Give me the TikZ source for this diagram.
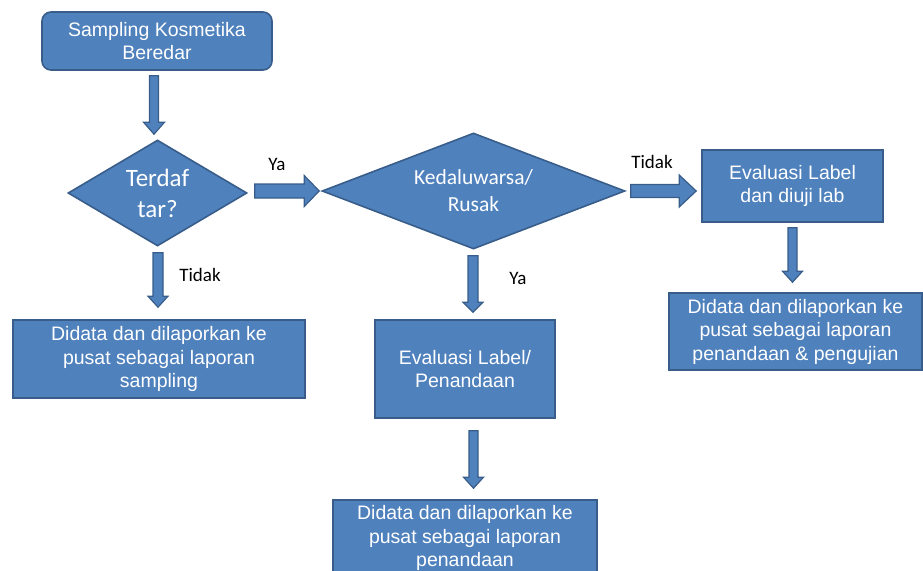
\documentclass[tikz,border=0pt]{standalone}
\usepackage{fontspec}
\setmainfont{Liberation Sans}
\newfontfamily\calfont{Carlito}
\usetikzlibrary{shapes.geometric,calc}
\definecolor{fillblue}{HTML}{4F81BD}
\definecolor{edgeblue}{HTML}{385D8A}
\tikzset{
  boxst/.style={draw=edgeblue, fill=fillblue, line width=1.6pt, text=white, align=center, inner sep=0pt,
    font=\fontsize{19.5}{23.5}\selectfont},
  rboxst/.style={boxst, rounded corners=9pt},
  decst/.style={boxst, diamond, font=\calfont\fontsize{21.5}{27}\selectfont},
  barrowst/.style={draw=edgeblue, fill=fillblue, line width=1.2pt, line join=miter},
  lbl/.style={font=\calfont\fontsize{19}{22}\selectfont, text=black, inner sep=0pt},
}
% #1 tail, #2 tip, #3 shaft half width, #4 head half width, #5 head length
\newcommand\blockarrow[5]{%
  \coordinate (ba) at #1;
  \coordinate (bb) at #2;
  \coordinate (bh) at ($(bb)!#5!(ba)$);
  \draw[barrowst] ($(ba)!#3!90:(bb)$) -- ($(bh)!#3!-90:(ba)$) -- ($(bh)!#4!-90:(ba)$) -- (bb)
    -- ($(bh)!#4!90:(ba)$) -- ($(bh)!#3!90:(ba)$) -- ($(ba)!#3!-90:(bb)$) -- cycle;
}
\begin{document}
\begin{tikzpicture}[x=1pt,y=-1pt]
\useasboundingbox (0,0) rectangle (923,570);

\node[rboxst, minimum width=230pt, minimum height=58pt] (s) at (157,41) {Sampling Kosmetika\\Beredar};
\node[decst, minimum width=179pt, minimum height=106pt, shape aspect=1.7,
      font=\calfont\fontsize{25}{31}\selectfont] (d1) at (157.5,193) {Terdaf\\tar?};
\node[decst, minimum width=303pt, minimum height=116pt, shape aspect=2.6] (d2) at (473.5,191) {Kedaluwarsa/\\Rusak};
\node[boxst, minimum width=292pt, minimum height=78pt] (b1) at (159,359) {Didata dan dilaporkan ke\\pusat sebagai laporan\\sampling};
\node[boxst, minimum width=180pt, minimum height=98pt] (b2) at (465,369) {Evaluasi Label/\\Penandaan};
\node[boxst, minimum width=264pt, minimum height=76pt] (b3) at (465,538) {Didata dan dilaporkan ke\\pusat sebagai laporan\\penandaan};
\node[boxst, minimum width=181pt, minimum height=72pt] (b4) at (792.5,186) {Evaluasi Label\\dan diuji lab};
\node[boxst, minimum width=253pt, minimum height=77pt] (b5) at (795.5,331.5) {Didata dan dilaporkan ke\\pusat sebagai laporan\\penandaan \& pengujian};

\blockarrow{($(s.south)+(-3,5)$)}{($(d1.north)+(-3.5,-5)$)}{4.5pt}{10.5pt}{12pt}
\blockarrow{($(d1.south)+(0.5,6)$)}{($(b1.north)+(-1,-12)$)}{5pt}{10pt}{11pt}
\blockarrow{($(d1.east)+(7,-2)$)}{($(d2.west)+(-2,0)$)}{7pt}{15.5pt}{15pt}
\blockarrow{($(d2.south)+(-0.5,6)$)}{($(b2.north)+(8,-7)$)}{5pt}{10pt}{10pt}
\blockarrow{($(b2.south)+(8.5,12)$)}{($(b3.north)+(8.5,-11)$)}{4.5pt}{10pt}{11pt}
\blockarrow{($(d2.east)+(5,0)$)}{($(b4.west)+(-5,5)$)}{6.5pt}{16pt}{17pt}
\blockarrow{($(b4.south)+(0,5)$)}{($(b5.north)+(-3,-10)$)}{4.5pt}{10pt}{11pt}

\node[lbl] (ya1) at (277,164) {Ya};
\node[lbl] (tdk1) at (200,275) {Tidak};
\node[lbl] (ya2) at (518,278) {Ya};
\node[lbl] (tdk2) at (652,162) {Tidak};
\end{tikzpicture}
\end{document}
